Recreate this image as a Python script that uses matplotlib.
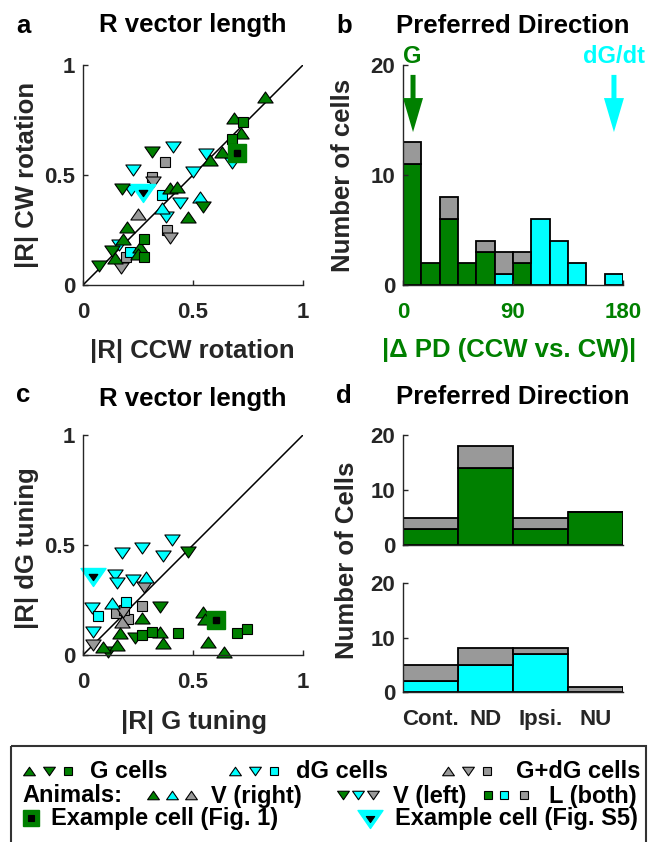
import matplotlib
matplotlib.use('Agg')
import matplotlib.pyplot as plt
from matplotlib.path import Path
from matplotlib.patches import Rectangle

plt.rcParams['font.family'] = ['Liberation Sans', 'DejaVu Sans']
plt.rcParams['font.weight'] = 'bold'

GREEN = '#008000'
CYAN = '#00ffff'
GRAY = '#999999'
AX = '#262626'

# ---------------- Panel a : |R| CCW rotation (x) vs |R| CW rotation (y)
a_G_right_x = [0.827, 0.688, 0.717, 0.630, 0.577, 0.395, 0.426, 0.479, 0.198, 0.180, 0.259, 0.248, 0.145]
a_G_right_y = [0.856, 0.758, 0.689, 0.606, 0.568, 0.439, 0.447, 0.311, 0.265, 0.208, 0.174, 0.141, 0.121]
a_G_left_x = [0.312, 0.176, 0.547, 0.130, 0.074]
a_G_left_y = [0.606, 0.435, 0.356, 0.156, 0.086]
a_G_L_x = [0.726, 0.679, 0.277, 0.277]
a_G_L_y = [0.739, 0.662, 0.208, 0.126]
a_dG_left_x = [0.411, 0.558, 0.502, 0.229, 0.220, 0.441, 0.376, 0.165, 0.679]
a_dG_left_y = [0.629, 0.595, 0.515, 0.523, 0.432, 0.371, 0.311, 0.182, 0.553]
a_dG_right_x = [0.532, 0.361]
a_dG_right_y = [0.402, 0.348]
a_dG_L_x = [0.361, 0.214]
a_dG_L_y = [0.409, 0.152]
a_M_L_x = [0.373, 0.315, 0.380, 0.195]
a_M_L_y = [0.561, 0.492, 0.250, 0.126]
a_M_left_x = [0.320, 0.395, 0.171]
a_M_left_y = [0.470, 0.212, 0.076]
a_M_right_x = [0.252]
a_M_right_y = [0.321]
a_ex1 = (0.698, 0.598)
a_exS5 = (0.274, 0.417)

# ---------------- Panel c : |R| G tuning (x) vs |R| dG tuning (y)
c_G_right_x = [0.267, 0.547, 0.554, 0.168, 0.350, 0.365, 0.153, 0.567, 0.641, 0.092]
c_G_right_y = [0.168, 0.197, 0.162, 0.098, 0.106, 0.056, 0.045, 0.060, 0.015, 0.035]
c_G_left_x = [0.479, 0.350, 0.236, 0.115]
c_G_left_y = [0.470, 0.217, 0.076, 0.015]
c_G_L_x = [0.267, 0.312, 0.433, 0.698, 0.744]
c_G_L_y = [0.091, 0.106, 0.098, 0.098, 0.117]
c_dG_left_x = [0.403, 0.267, 0.176, 0.365, 0.145, 0.153, 0.229, 0.039, 0.047]
c_dG_left_y = [0.523, 0.485, 0.465, 0.450, 0.364, 0.328, 0.341, 0.212, 0.106]
c_dG_right_x = [0.286, 0.130]
c_dG_right_y = [0.356, 0.235]
c_dG_L_x = [0.195, 0.070]
c_dG_L_y = [0.242, 0.179]
c_M_L_x = [0.267, 0.150, 0.206, 0.185]
c_M_L_y = [0.223, 0.190, 0.162, 0.205]
c_M_left_x = [0.277, 0.180, 0.047]
c_M_left_y = [0.311, 0.197, 0.045]
c_M_right_x = [0.176]
c_M_right_y = [0.152]
c_ex1 = (0.605, 0.160)
c_exS5 = (0.047, 0.356)

# ---------------- Panel b : histogram of |delta PD|
b_bin_edges = [0, 15, 30, 45, 60, 75, 90, 105, 120, 135, 150, 165, 180]
b_G = [11, 2, 6, 2, 3, 0, 2, 0, 0, 0, 0, 0]
b_dG = [0, 0, 0, 0, 0, 1, 0, 6, 4, 2, 0, 1]
b_M = [2, 0, 2, 0, 1, 2, 1, 0, 0, 0, 0, 0]
b_arrow_G = 8.2
b_arrow_dG = 172.6

# ---------------- Panel d : preferred direction categories
d_cats = ['Cont.', 'ND', 'Ipsi.', 'NU']
d_top_G = [3, 14, 3, 6]
d_top_M = [2, 4, 2, 0]
d_bot_dG = [2, 5, 7, 0]
d_bot_M = [3, 3, 1, 1]

# ---------------- markers (MATLAB-like flat triangles)
UP = Path([(-1, -0.72), (1, -0.72), (0, 0.72), (0, 0)],
          [Path.MOVETO, Path.LINETO, Path.LINETO, Path.CLOSEPOLY])
DN = Path([(-1, 0.72), (1, 0.72), (0, -0.72), (0, 0)],
          [Path.MOVETO, Path.LINETO, Path.LINETO, Path.CLOSEPOLY])
SQ = 's'
TRI_MS = 11
SQ_MS = 7.5

W, H = 650, 842
fig = plt.figure(figsize=(6.5, 8.42), dpi=100)


def axbox(l, t, r, b):
    return [l / W, 1 - b / H, (r - l) / W, (b - t) / H]


def ftext(x, y, s, **kw):
    kw.setdefault('fontweight', 'bold')
    fig.text(x / W, 1 - y / H, s, **kw)


def style(ax):
    for s in ['top', 'right']:
        ax.spines[s].set_visible(False)
    for s in ['left', 'bottom']:
        ax.spines[s].set_color(AX)
        ax.spines[s].set_linewidth(1.0)
    ax.tick_params(direction='in', length=3.5, width=1, color=AX, labelcolor=AX, labelsize=16)
    ax.tick_params(axis='x', pad=12)
    ax.tick_params(axis='y', pad=5.5)
    for lab in ax.get_xticklabels() + ax.get_yticklabels():
        lab.set_fontweight('bold')


def pts(ax, x, y, marker, color, ms):
    ax.plot(x, y, ls='none', marker=marker, ms=ms, mfc=color, mec='k', mew=0.8, clip_on=False)


def scatter_panel(ax, d):
    ax.plot([0, 1], [0, 1], color='k', lw=1.1)
    pts(ax, d['M_L'][0], d['M_L'][1], SQ, GRAY, SQ_MS)
    pts(ax, d['M_left'][0], d['M_left'][1], DN, GRAY, TRI_MS)
    pts(ax, d['M_right'][0], d['M_right'][1], UP, GRAY, TRI_MS)
    pts(ax, d['dG_left'][0], d['dG_left'][1], DN, CYAN, TRI_MS)
    pts(ax, d['dG_right'][0], d['dG_right'][1], UP, CYAN, TRI_MS)
    pts(ax, d['dG_L'][0], d['dG_L'][1], SQ, CYAN, SQ_MS)
    pts(ax, d['G_left'][0], d['G_left'][1], DN, GREEN, TRI_MS)
    pts(ax, d['G_right'][0], d['G_right'][1], UP, GREEN, TRI_MS)
    pts(ax, d['G_L'][0], d['G_L'][1], SQ, GREEN, SQ_MS)
    ex1, exS5 = d['ex1'], d['exS5']
    ax.plot([ex1[0]], [ex1[1]], ls='none', marker=SQ, ms=13, mfc=GREEN, mec=GREEN, mew=1, clip_on=False)
    ax.plot([ex1[0]], [ex1[1]], ls='none', marker=SQ, ms=4, mfc='k', mec='k', clip_on=False)
    ax.plot([exS5[0]], [exS5[1]], ls='none', marker=DN, ms=18, mfc=CYAN, mec=CYAN, mew=1, clip_on=False)
    ax.plot([exS5[0]], [exS5[1]], ls='none', marker=DN, ms=6, mfc='k', mec='k', clip_on=False)
    ax.set_xlim(0, 1)
    ax.set_ylim(0, 1)
    ax.set_xticks([0, 0.5, 1])
    ax.set_xticklabels(['0', '0.5', '1'])
    ax.set_yticks([0, 0.5, 1])
    ax.set_yticklabels(['0', '0.5', '1'])
    style(ax)


axA = fig.add_axes(axbox(83, 65, 303, 285))
axB = fig.add_axes(axbox(403, 65, 623, 285))
axC = fig.add_axes(axbox(83, 435, 303, 655))
axD1 = fig.add_axes(axbox(403, 435, 623, 545))
axD2 = fig.add_axes(axbox(403, 583, 623, 692))

scatter_panel(axA, dict(
    G_right=(a_G_right_x, a_G_right_y), G_left=(a_G_left_x, a_G_left_y), G_L=(a_G_L_x, a_G_L_y),
    dG_right=(a_dG_right_x, a_dG_right_y), dG_left=(a_dG_left_x, a_dG_left_y), dG_L=(a_dG_L_x, a_dG_L_y),
    M_right=(a_M_right_x, a_M_right_y), M_left=(a_M_left_x, a_M_left_y), M_L=(a_M_L_x, a_M_L_y),
    ex1=a_ex1, exS5=a_exS5))
scatter_panel(axC, dict(
    G_right=(c_G_right_x, c_G_right_y), G_left=(c_G_left_x, c_G_left_y), G_L=(c_G_L_x, c_G_L_y),
    dG_right=(c_dG_right_x, c_dG_right_y), dG_left=(c_dG_left_x, c_dG_left_y), dG_L=(c_dG_L_x, c_dG_L_y),
    M_right=(c_M_right_x, c_M_right_y), M_left=(c_M_left_x, c_M_left_y), M_L=(c_M_L_x, c_M_L_y),
    ex1=c_ex1, exS5=c_exS5))

# ---- panel b histogram (stacked: G, dG, G+dG)
lefts = b_bin_edges[:-1]
widths = [b_bin_edges[i + 1] - b_bin_edges[i] for i in range(len(lefts))]
bottom = [0] * len(lefts)
for vals, col in [(b_G, GREEN), (b_dG, CYAN), (b_M, GRAY)]:
    for i, v in enumerate(vals):
        if v > 0:
            axB.bar(lefts[i], v, width=widths[i], bottom=bottom[i], align='edge',
                    color=col, edgecolor='k', linewidth=1.3)
    bottom = [bottom[i] + vals[i] for i in range(len(vals))]
axB.set_xlim(0, 180)
axB.set_ylim(0, 20)
axB.set_xticks([0, 90, 180])
axB.set_yticks([0, 10, 20])
style(axB)
axB.tick_params(axis='x', labelcolor=GREEN)
for xa, col in [(b_arrow_G, GREEN), (b_arrow_dG, CYAN)]:
    axB.annotate('', xy=(xa, 13.9), xytext=(xa, 19.1),
                 arrowprops=dict(arrowstyle='simple,head_length=2.45,head_width=1.44,tail_width=0.36',
                                 fc=col, ec='none', lw=0, shrinkA=0, shrinkB=0, mutation_scale=10),
                 annotation_clip=False)

# ---- panel d bars
xs = [1, 2, 3, 4]
axD1.bar(xs, d_top_G, width=1, color=GREEN, edgecolor='k', linewidth=1.3)
axD1.bar(xs, d_top_M, width=1, bottom=d_top_G, color=GRAY, edgecolor='k', linewidth=1.3)
axD2.bar(xs, d_bot_dG, width=1, color=CYAN, edgecolor='k', linewidth=1.3)
axD2.bar(xs, d_bot_M, width=1, bottom=d_bot_dG, color=GRAY, edgecolor='k', linewidth=1.3)
for ax in (axD1, axD2):
    ax.set_xlim(0.5, 4.5)
    ax.set_ylim(0, 20)
    ax.set_yticks([0, 10, 20])
    style(ax)
axD1.set_xticks([])
axD2.set_xticks(xs)
axD2.set_xticklabels(d_cats)
axD2.tick_params(axis='x', length=0)
for lab in axD2.get_xticklabels():
    lab.set_fontweight('bold')

# ---- titles, labels
TS = 18.5
ftext(193, 32, 'R vector length', ha='center', va='baseline', fontsize=TS, color='k')
ftext(513, 33, 'Preferred Direction', ha='center', va='baseline', fontsize=TS, color='k')
ftext(193, 406, 'R vector length', ha='center', va='baseline', fontsize=TS, color='k')
ftext(513, 404, 'Preferred Direction', ha='center', va='baseline', fontsize=TS, color='k')
for x, y, s in [(16, 33, 'a'), (336, 33, 'b'), (16, 402, 'c'), (336, 403, 'd')]:
    ftext(x, y, s, ha='left', va='baseline', fontsize=TS, color='k')
ftext(192, 358, '|R| CCW rotation', ha='center', va='baseline', fontsize=TS, color=AX)
ftext(509, 357, '|Δ PD (CCW vs. CW)|', ha='center', va='baseline', fontsize=TS, color=GREEN)
ftext(194, 729, '|R| G tuning', ha='center', va='baseline', fontsize=TS, color=AX)
ftext(27, 175, '|R| CW rotation', rotation=90, ha='center', va='center', fontsize=TS, color=AX)
ftext(343, 175, 'Number of cells', rotation=90, ha='center', va='center', fontsize=TS, color=AX)
ftext(27, 548, '|R| dG tuning', rotation=90, ha='center', va='center', fontsize=TS, color=AX)
ftext(347, 560, 'Number of Cells', rotation=90, ha='center', va='center', fontsize=TS, color=AX)
ftext(412, 63, 'G', ha='center', va='baseline', fontsize=17, color=GREEN)
ftext(614, 63, 'dG/dt', ha='center', va='baseline', fontsize=17, color=CYAN)

# ---- legend box
axL = fig.add_axes([0, 0, 1, 1], zorder=-1)
axL.set_xlim(0, W)
axL.set_ylim(H, 0)
axL.axis('off')
axL.add_patch(Rectangle((11, 746), 635, 120, fill=False, ec='#333333', lw=1.5, clip_on=False))
LS = 17
r1, r2, r3 = 771, 795, 818


def lm(x, y, marker, col, ms, ec='k', mew=0.8):
    axL.plot([x], [y], ls='none', marker=marker, ms=ms, mfc=col, mec=ec, mew=mew, clip_on=False)


def lt(x, y, s):
    axL.text(x, y + 7.5, s, ha='left', va='baseline', fontsize=LS, fontweight='bold', color='k')


for xs3, col, lab, tx in [((29, 49, 68), GREEN, 'G cells', 90),
                          ((235, 255, 274), CYAN, 'dG cells', 296),
                          ((448, 468, 487), GRAY, 'G+dG cells', 516)]:
    lm(xs3[0], r1, UP, col, 8.5)
    lm(xs3[1], r1, DN, col, 8.5)
    lm(xs3[2], r1, SQ, col, 5.5)
    lt(tx, r1, lab)
lt(22, r2, 'Animals:')
for x, col in zip((153, 172, 191), (GREEN, CYAN, GRAY)):
    lm(x, r2, UP, col, 8.5)
lt(211, r2, 'V (right)')
for x, col in zip((343, 358, 373), (GREEN, CYAN, GRAY)):
    lm(x, r2, DN, col, 8.5)
lt(393, r2, 'V (left)')
for x, col in zip((488, 504, 524), (GREEN, CYAN, GRAY)):
    lm(x, r2, SQ, col, 5.5)
lt(549, r2, 'L (both)')
lm(31, r3, SQ, GREEN, 12, ec=GREEN, mew=1)
lm(31, r3, SQ, 'k', 4, ec='k')
lt(51, r3, 'Example cell (Fig. 1)')
lm(370, r3 + 1, DN, CYAN, 18, ec=CYAN, mew=1)
lm(370, r3 + 1, DN, 'k', 6, ec='k')
lt(395, r3, 'Example cell (Fig. S5)')

fig.savefig('out.png', dpi=100)
